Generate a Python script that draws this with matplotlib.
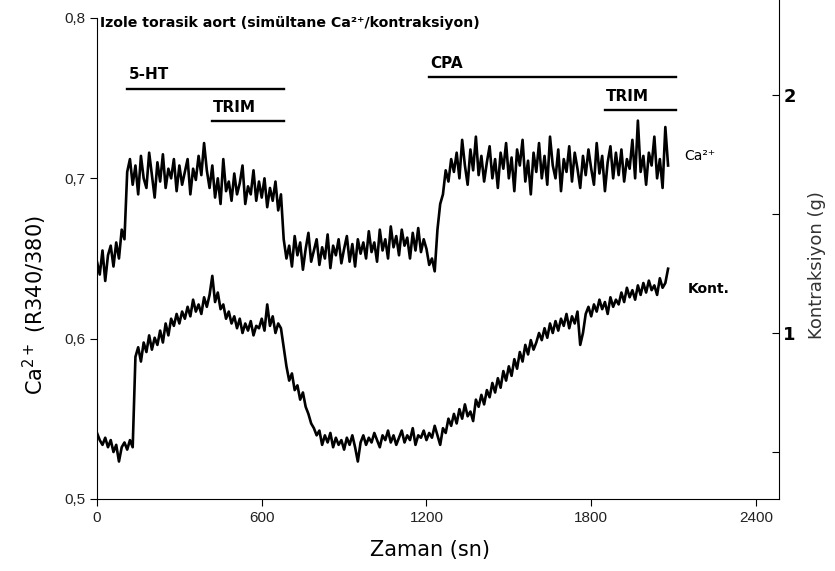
import matplotlib
matplotlib.use("Agg")
import matplotlib.pyplot as plt
import numpy as np

# time axis of both traces (s), one sample every 10 s
time_s = np.arange(0, 2090, 10)

# Ca2+ ratio (R340/380), left axis
ca_ratio = [
    0.648, 0.640, 0.655, 0.636, 0.652, 0.658, 0.645, 0.660, 0.650, 0.668,
    0.662, 0.704, 0.712, 0.696, 0.708, 0.690, 0.714, 0.700, 0.694, 0.716,
    0.702, 0.688, 0.710, 0.698, 0.715, 0.694, 0.706, 0.700, 0.712, 0.692,
    0.708, 0.696, 0.704, 0.712, 0.690, 0.706, 0.699, 0.714, 0.702, 0.722,
    0.705, 0.694, 0.708, 0.688, 0.700, 0.684, 0.712, 0.692, 0.698, 0.686,
    0.703, 0.690, 0.697, 0.708, 0.684, 0.695, 0.690, 0.705, 0.686, 0.698,
    0.688, 0.700, 0.682, 0.694, 0.686, 0.698, 0.680, 0.690, 0.662, 0.650,
    0.658, 0.645, 0.664, 0.652, 0.660, 0.643, 0.656, 0.666, 0.648, 0.655,
    0.662, 0.646, 0.657, 0.650, 0.665, 0.644, 0.658, 0.652, 0.662, 0.647,
    0.656, 0.664, 0.648, 0.659, 0.645, 0.662, 0.653, 0.660, 0.650, 0.667,
    0.654, 0.660, 0.648, 0.668, 0.655, 0.662, 0.650, 0.670, 0.657, 0.664,
    0.652, 0.668, 0.658, 0.663, 0.650, 0.666, 0.655, 0.669, 0.654, 0.662,
    0.656, 0.646, 0.650, 0.642, 0.668, 0.684, 0.690, 0.705, 0.698, 0.712,
    0.704, 0.716, 0.700, 0.724, 0.708, 0.696, 0.718, 0.705, 0.726, 0.702,
    0.714, 0.698, 0.710, 0.720, 0.700, 0.712, 0.694, 0.716, 0.706, 0.722,
    0.700, 0.713, 0.692, 0.718, 0.708, 0.724, 0.698, 0.711, 0.690, 0.716,
    0.704, 0.722, 0.700, 0.714, 0.696, 0.726, 0.708, 0.700, 0.718, 0.692,
    0.712, 0.704, 0.720, 0.698, 0.716, 0.706, 0.694, 0.714, 0.702, 0.718,
    0.706, 0.696, 0.722, 0.703, 0.714, 0.692, 0.710, 0.720, 0.700, 0.716,
    0.702, 0.718, 0.698, 0.712, 0.706, 0.724, 0.700, 0.736, 0.704, 0.714,
    0.696, 0.716, 0.708, 0.726, 0.700, 0.712, 0.694, 0.732, 0.708,
]

# contraction (g), right axis
kont_g = [
    0.58, 0.55, 0.53, 0.56, 0.52, 0.55, 0.50, 0.53, 0.46, 0.52,
    0.54, 0.51, 0.55, 0.52, 0.90, 0.94, 0.88, 0.96, 0.92, 0.99,
    0.93, 0.98, 0.95, 1.01, 0.96, 1.04, 0.99, 1.06, 1.03, 1.08,
    1.04, 1.09, 1.06, 1.11, 1.07, 1.14, 1.09, 1.12, 1.08, 1.15,
    1.11, 1.16, 1.24, 1.13, 1.17, 1.10, 1.12, 1.06, 1.09, 1.04,
    1.07, 1.02, 1.06, 1.00, 1.04, 1.01, 1.05, 0.99, 1.03, 1.02,
    1.06, 1.01, 1.12, 1.03, 1.07, 1.00, 1.04, 1.02, 0.94, 0.86,
    0.80, 0.83, 0.76, 0.78, 0.72, 0.75, 0.69, 0.66, 0.62, 0.60,
    0.57, 0.59, 0.53, 0.57, 0.54, 0.58, 0.52, 0.56, 0.53, 0.55,
    0.51, 0.56, 0.53, 0.57, 0.52, 0.46, 0.54, 0.57, 0.53, 0.56,
    0.54, 0.58, 0.55, 0.52, 0.57, 0.55, 0.59, 0.54, 0.57, 0.53,
    0.56, 0.59, 0.54, 0.57, 0.55, 0.60, 0.53, 0.57, 0.56, 0.59,
    0.55, 0.58, 0.56, 0.61, 0.57, 0.53, 0.60, 0.58, 0.64, 0.61,
    0.66, 0.62, 0.68, 0.64, 0.70, 0.65, 0.67, 0.63, 0.72, 0.69,
    0.74, 0.70, 0.76, 0.73, 0.79, 0.75, 0.81, 0.77, 0.84, 0.80,
    0.86, 0.82, 0.89, 0.85, 0.92, 0.88, 0.95, 0.91, 0.97, 0.93,
    0.96, 1.00, 0.97, 1.02, 0.98, 1.04, 1.00, 1.05, 1.01, 1.06,
    1.03, 1.08, 1.02, 1.07, 1.04, 1.09, 0.95, 1.00, 1.08, 1.11,
    1.07, 1.12, 1.09, 1.14, 1.10, 1.13, 1.08, 1.15, 1.11, 1.14,
    1.12, 1.17, 1.13, 1.19, 1.15, 1.18, 1.14, 1.20, 1.16, 1.21,
    1.17, 1.22, 1.18, 1.20, 1.16, 1.23, 1.19, 1.21, 1.27,
]

# drug application periods: (label, start s, end s)
treatments = [("5-HT", 110, 680), ("TRIM", 418, 680),
              ("CPA", 1210, 2110), ("TRIM", 1850, 2110)]
treatment_levels = [0.756, 0.7355, 0.763, 0.7425]

x_ticks = [0, 600, 1200, 1800, 2400]
left_ticks = [0.5, 0.6, 0.7, 0.8]
left_tick_labels = ["0,5", "0,6", "0,7", "0,8"]

narrow = ["Liberation Sans Narrow", "DejaVu Sans"]
light = ["Liberation Sans", "DejaVu Sans"]

fig = plt.figure(figsize=(8.35, 5.71), dpi=100)
ax = fig.add_axes([97 / 835, 1 - 499 / 571, (779 - 97) / 835, 481 / 571])
ax2 = ax.twinx()

ax.plot(time_s, ca_ratio, color="black", lw=1.9)
ax2.plot(time_s, kont_g, color="black", lw=1.9)

ax.set_xlim(0, 2484)
ax.set_ylim(0.5, 0.8)
ax2.set_ylim(0.3025, 2.3235)

ax.spines["top"].set_visible(False)
ax2.spines["top"].set_visible(False)
ax.spines["right"].set_visible(False)
ax2.spines["left"].set_visible(False)
ax2.spines["bottom"].set_visible(False)
ax2.spines["right"].set_bounds(0.3025, 2.40)

ax.set_xticks(x_ticks)
ax.set_xticklabels([str(v) for v in x_ticks], fontsize=11, color="#222222", family=light)
ax.set_yticks(left_ticks)
ax.set_yticklabels(left_tick_labels, fontsize=11, color="#222222", family=light)
ax.tick_params(axis="both", direction="out", length=5, width=0.8)

ax2.set_yticks([1, 2])
ax2.set_yticklabels(["1", "2"], fontsize=13, fontweight="bold")
ax2.set_yticks([0.5, 1.5], minor=True)
ax2.tick_params(axis="y", which="both", direction="in", length=5, width=0.8, pad=3)

for (label, t0, t1), lvl in zip(treatments, treatment_levels):
    ax.plot([t0, t1], [lvl, lvl], color="black", lw=1.7)
    ax.text(t0 + 5, lvl + 0.004, label, fontsize=11, fontweight="bold",
            family=narrow, ha="left", va="bottom")

ax.text(10, 0.797, "Izole torasik aort (simültane Ca²⁺/kontraksiyon)",
        fontsize=10.2, fontweight="bold", family=narrow, ha="left", va="center")
ax.text(2140, 0.714, "Ca²⁺", fontsize=10, family=narrow, ha="left", va="center")
ax.text(2150, 0.631, "Kont.", fontsize=10, fontweight="bold", family=narrow,
        ha="left", va="center")

fig.text(430 / 835, 1 - 550 / 571, "Zaman (sn)", fontsize=15, ha="center", va="center")
fig.text(35 / 835, 1 - 305 / 571, "Ca$^{2+}$ (R340/380)", fontsize=15,
         rotation=90, ha="center", va="center")
fig.text(817 / 835, 1 - 265 / 571, "Kontraksiyon (g)", fontsize=13, color="#333333",
         rotation=90, ha="center", va="center")

fig.savefig("out.png", dpi=100)
